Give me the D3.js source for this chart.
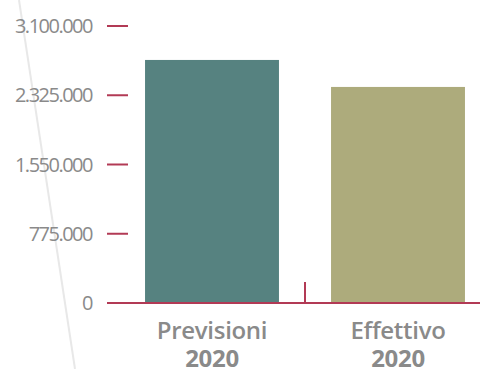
<!DOCTYPE html>
<html>
<head>
<meta charset="utf-8">
<script src="https://cdn.jsdelivr.net/npm/d3@7"></script>
<style>
  html, body { margin: 0; padding: 0; background: #fff; }
  svg { display: block; }
</style>
</head>
<body>
<svg id="chart"></svg>
<script>
const categories = [["Previsioni", "2020"], ["Effettivo", "2020"]];
const values = [2720000, 2418000];
const tickValues = [0, 775000, 1550000, 2325000, 3100000];
const barColors = ["#568280", "#adab7c"];

const width = 480, height = 369;
const axisColor = "#b23a55";
const textColor = "#8a8a8a";

const svg = d3.select("#chart")
  .attr("width", width)
  .attr("height", height);

// decorative diagonal line
svg.append("line")
  .attr("x1", 19).attr("y1", 0)
  .attr("x2", 75).attr("y2", height)
  .style("stroke", "#e8e8e8")
  .style("stroke-width", 2);

const x = d3.scaleBand()
  .domain(d3.range(categories.length))
  .range([119, 491])
  .paddingInner(0.28)
  .paddingOuter(0.14);

const y = d3.scaleLinear()
  .domain([0, 3100000])
  .range([303, 26]);

const fmt = d3.formatLocale({ decimal: ",", thousands: ".", grouping: [3], currency: ["€", ""] }).format(",d");

// bars
svg.selectAll(".bar")
  .data(values)
  .enter()
  .append("rect")
  .attr("x", (d, i) => x(i))
  .attr("y", d => y(d))
  .attr("width", x.bandwidth())
  .attr("height", d => y(0) - y(d))
  .style("fill", (d, i) => barColors[i]);

// y axis ticks
const yTicks = svg.append("g");
yTicks.selectAll("line")
  .data(tickValues)
  .enter()
  .append("line")
  .attr("x1", 107).attr("x2", 128)
  .attr("y1", d => y(d)).attr("y2", d => y(d))
  .style("stroke", axisColor)
  .style("stroke-width", 2);
yTicks.selectAll("text")
  .data(tickValues)
  .enter()
  .append("text")
  .attr("x", 92)
  .attr("y", d => y(d))
  .attr("dy", "0.36em")
  .attr("text-anchor", "end")
  .style("font-family", "'Open Sans', sans-serif")
  .style("font-size", "20px")
  .style("letter-spacing", "-1.5px")
  .style("fill", textColor)
  .text(d => fmt(d));

// baseline
svg.append("line")
  .attr("x1", 107).attr("x2", width)
  .attr("y1", y(0)).attr("y2", y(0))
  .style("stroke", axisColor)
  .style("stroke-width", 2);

// band boundary tick
const step = x.step();
svg.append("line")
  .attr("x1", x(1) - (step - x.bandwidth()) / 2)
  .attr("x2", x(1) - (step - x.bandwidth()) / 2)
  .attr("y1", y(0)).attr("y2", y(0) - 21)
  .style("stroke", axisColor)
  .style("stroke-width", 2);

// category labels
const labels = svg.selectAll(".cat")
  .data(categories)
  .enter()
  .append("text")
  .attr("text-anchor", "middle")
  .attr("transform", (d, i) => `translate(${x(i) + x.bandwidth() / 2},339)`)
  .style("font-family", "'Open Sans', sans-serif")
  .style("font-size", "24px")
  .style("letter-spacing", "-0.3px")
  .style("fill", textColor);
labels.append("tspan")
  .attr("x", 0).attr("y", 0)
  .style("font-weight", 600)
  .text(d => d[0]);
labels.append("tspan")
  .attr("x", 0).attr("y", 28)
  .style("font-weight", 700)
  .text(d => d[1]);
</script>
</body>
</html>
